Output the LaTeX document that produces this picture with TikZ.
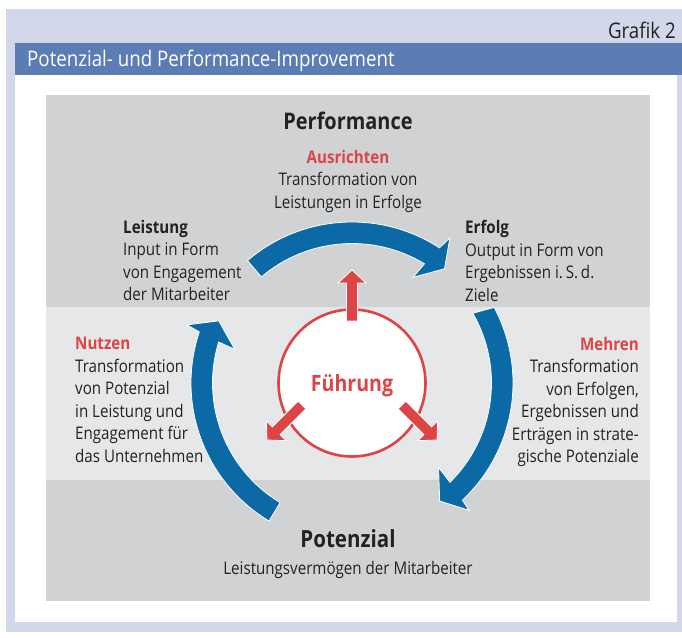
\documentclass[tikz,border=0pt]{standalone}
\usepackage{fontspec}
\setmainfont{Open Sans}[FakeStretch=0.87]
\usetikzlibrary{calc}

\definecolor{frame}{HTML}{D2D8EA}
\definecolor{titlebar}{HTML}{5C7CB4}
\definecolor{panel}{HTML}{D1D2D4}
\definecolor{band}{HTML}{E6E7E8}
\definecolor{ink}{HTML}{222222}
\definecolor{cycleblue}{HTML}{0B6AA6}
\definecolor{leadred}{HTML}{DC4446}

\tikzset{
  body/.style={font=\fontsize{17.4}{22.5}\selectfont, text=ink, inner sep=0pt},
  heading/.style={font=\fontsize{22.9}{26}\selectfont\bfseries, text=ink, inner sep=0pt},
  cyclearrow/.style={fill=cycleblue, draw=white, line width=0.8pt, line join=miter},
  leadarrow/.style={fill=leadred, draw=white, line width=0.8pt, line join=miter},
}

% straight block arrow from #1 to #2: shaft 11pt wide, head 28pt wide, 13pt long
\newcommand\guidearrow[2]{%
  \coordinate (#2-base) at ($(#2)!13pt!(#1)$);
  \draw[leadarrow]
    ($(#1)!5.5pt!90:(#2)$) -- ($(#2-base)!5.5pt!90:(#2)$) -- ($(#2-base)!14pt!90:(#2)$)
    -- (#2) -- ($(#2-base)!14pt!-90:(#2)$) -- ($(#2-base)!5.5pt!-90:(#2)$)
    -- ($(#1)!5.5pt!-90:(#2)$) -- cycle;
}

\begin{document}
\begin{tikzpicture}[x=1pt, y=-1pt]
  \useasboundingbox (0,0) rectangle (682,637);
  \fill[white] (0,0) rectangle (682,637);

  % frame, title bar, panels
  \fill[frame] (6,9) rectangle (682,632);
  \fill[titlebar] (15,43) rectangle (682,75);
  \fill[white] (15,75) rectangle (677,622);
  \fill[panel] (46,95) rectangle (650,601);
  \fill[band] (46,307) rectangle (650,480);

  \node[font=\fontsize{21.5}{24}\selectfont, text=ink, inner sep=0pt, anchor=base east] (grafik) at (676,38.5) {Grafik 2};
  \node[font=\fontsize{21.5}{24}\selectfont, text=white, inner sep=0pt, anchor=base west] (title) at (27,66.5) {Potenzial- und Performance-Improvement};

  % headings
  \node[heading, anchor=base] (performance) at (348,129) {Performance};
  \node[heading, font=\fontsize{23.6}{26}\selectfont\bfseries, anchor=base] (potenzial) at (348,547) {Potenzial};
  \node[body, anchor=base] (vermoegen) at (348,574) {Leistungsvermögen der Mitarbeiter};

  % text blocks
  \node[body, anchor=north, align=center] (ausrichten) at (348,150)
    {\textcolor{leadred}{\bfseries Ausrichten}\\Transformation von\\Leistungen in Erfolge};
  \node[body, anchor=north west, align=left] (leistung) at (123,220)
    {\textbf{Leistung}\\Input in Form\\von Engagement\\der Mitarbeiter};
  \node[body, anchor=north west, align=left] (erfolg) at (465,220)
    {\textbf{Erfolg}\\Output in Form von\\Ergebnissen i.\,S.\,d.\\Ziele};
  \node[body, anchor=north west, align=left] (nutzen) at (75,337)
    {\textcolor{leadred}{\bfseries Nutzen}\\Transformation\\von Potenzial\\in Leistung und\\Engagement für\\das Unternehmen};
  \node[body, anchor=north east, align=right] (mehren) at (639,337)
    {\textcolor{leadred}{\bfseries Mehren}\\Transformation\\von Erfolgen,\\Ergebnissen und\\Erträgen in strate-\\gische Potenziale};

  % curved cycle arrows around the centre
  \begin{scope}[shift={(352,383)}]
    \draw[cyclearrow] (130.5:161pt) arc[start angle=130.5, end angle=57.1, radius=161pt]
      -- (56:175pt) -- (51:147pt) -- (60:122pt) -- (58.7:139.5pt)
      arc[start angle=58.7, end angle=130.5, radius=139.5pt] -- cycle;
    \draw[cyclearrow] (28:161pt) arc[start angle=28, end angle=-46.7, radius=161pt]
      -- (-47.4:173pt) -- (-53.4:147pt) -- (-44.3:121pt) -- (-45.4:139.5pt)
      arc[start angle=-45.4, end angle=30, radius=139.5pt] -- cycle;
    \draw[cyclearrow] (239:161pt) arc[start angle=239, end angle=161.5, radius=161pt]
      -- (160.6:175pt) -- (155:147pt) -- (164:122pt) -- (162.9:139.5pt)
      arc[start angle=162.9, end angle=239, radius=139.5pt] -- cycle;
  \end{scope}

  % leadership circle
  \node[circle, draw=leadred, line width=2.6pt, fill=white, minimum size=147pt, inner sep=0pt] (fuehrung) at (352,383) {};

  \coordinate (upS) at (352,321);
  \coordinate (upT) at (352,270);
  \coordinate (leftS) at (302,405);
  \coordinate (leftT) at (267,440);
  \coordinate (rightS) at (402,405);
  \coordinate (rightT) at (437,440);
  \guidearrow{upS}{upT}
  \guidearrow{leftS}{leftT}
  \guidearrow{rightS}{rightT}

  \node[font=\fontsize{22.5}{26}\selectfont\bfseries, text=leadred, inner sep=0pt, anchor=base] (fuehrungtext) at (352,391.5) {Führung};
\end{tikzpicture}
\end{document}
